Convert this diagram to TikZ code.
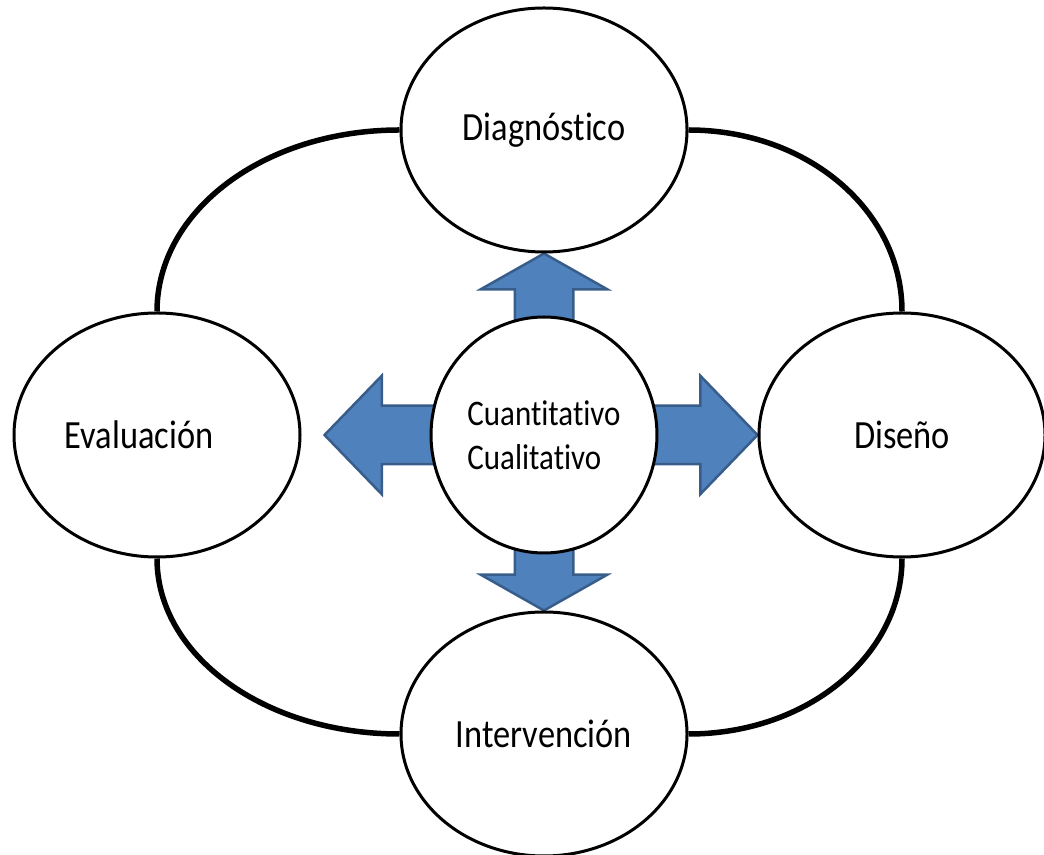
\documentclass[tikz,border=0pt]{standalone}
\usepackage{fontspec}
\setmainfont{Carlito}[FakeStretch=0.86,Ligatures=NoCommon]
\usetikzlibrary{shapes.geometric,shapes.arrows}
\definecolor{boxblue}{HTML}{4F81BD}
\definecolor{boxedge}{HTML}{385D8A}
\pgfdeclarelayer{back}
\pgfsetlayers{back,main}

\begin{document}
\begin{tikzpicture}[x=1pt,y=1pt]
    \tikzstyle{phase}=[ellipse,draw=black,line width=3pt,fill=white,minimum width=286pt,minimum height=244pt,font=\fontsize{40}{48}\selectfont]
    \tikzstyle{core}=[phase,minimum width=222pt,minimum height=236pt,font=\fontsize{36}{44}\selectfont,align=left]
    \tikzstyle{blk}=[single arrow,draw=boxedge,fill=boxblue,line width=2.5pt,inner xsep=0pt,inner ysep=28pt,outer sep=0pt,single arrow head indent=0pt]
    \tikzstyle{vert}=[blk,single arrow head extend=34pt,single arrow tip angle=121]
    \tikzstyle{horz}=[blk,single arrow head extend=30pt,single arrow tip angle=92]
    \tikzstyle{ring}=[draw=black,line width=5.5pt]

    \def\cx{544}
    \def\cy{419}

    \useasboundingbox (0,0) rectangle (1044,854);

    \node[phase] (diag)  at (\cx,724)  {Diagnóstico};
    \node[phase] (eval)  at (157,\cy)  {Evaluación\hspace*{36pt}};
    \node[phase] (dise)  at (902,\cy)  {Diseño};
    \node[phase] (inter) at (\cx,120)  {Intervención};
    \node[core]  (ctr)   at (\cx,\cy)  {Cuantitativo\\Cualitativo};

    \coordinate (lefttip) at ([xshift=-105pt]ctr.west);

    \begin{pgfonlayer}{back}
    % ring behind the phases
    \draw [ring] (eval.north) to[out=90,in=180,out distance=101pt,in distance=135pt] (diag.west);
    \draw [ring] (diag.east) to[out=0,in=90,out distance=119pt,in distance=101pt] (dise.north);
    \draw [ring] (dise.south) to[out=-90,in=0,out distance=97pt,in distance=119pt] (inter.east);
    \draw [ring] (inter.west) to[out=180,in=-90,out distance=135pt,in distance=97pt] (eval.south);

    % block arrows out of the centre
    \node[vert,rotate=90,anchor=tip,minimum height=80pt]   (uparr)    at (diag.south) {};
    \node[vert,rotate=-90,anchor=tip,minimum height=75pt]  (downarr)  at (inter.north) {};
    \node[horz,anchor=tip,minimum height=120pt]            (rightarr) at (dise.west) {};
    \node[horz,rotate=180,anchor=tip,minimum height=120pt] (leftarr)  at (lefttip) {};
    \end{pgfonlayer}
\end{tikzpicture}
\end{document}
